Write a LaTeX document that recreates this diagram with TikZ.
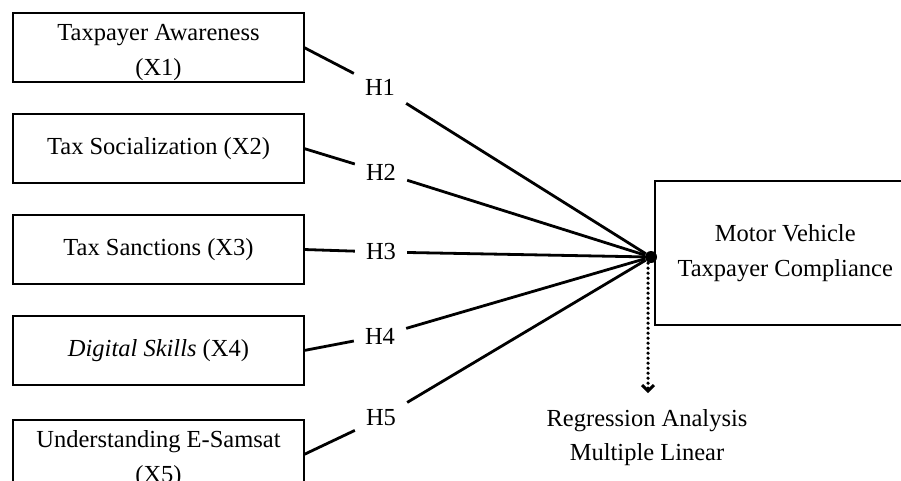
\documentclass[tikz,border=0pt]{standalone}
\usepackage{fontspec}
\setmainfont{Liberation Serif}
\usetikzlibrary{arrows.meta, positioning}

\begin{document}
\begin{tikzpicture}[
    x=1pt, y=-1pt,
    node distance=32pt and 40pt,
    var/.style={rectangle, draw=black, line width=2pt, minimum width=291pt, minimum height=69pt, inner sep=0pt, outer sep=0pt, align=center, font=\fontsize{24.5}{35}\selectfont},
    target/.style={rectangle, draw=black, line width=2pt, minimum width=260pt, minimum height=144pt, outer sep=0pt, align=center, font=\fontsize{24.5}{35}\selectfont},
    hyp/.style={inner sep=11pt, font=\fontsize{24.5}{30}\selectfont},
    dot/.style={circle, fill=black, inner sep=0pt, minimum size=12pt},
    link/.style={line width=2.8pt},
    method/.style={align=center, inner sep=2pt, font=\fontsize{24.5}{34}\selectfont}
]
    \useasboundingbox (0,0) rectangle (901,480);
    \clip (0,0) rectangle (901,480);

    % Variabel bebas
    \node[var] (awareness) at (158.5,47.5) {\rule{0pt}{27pt}Taxpayer Awareness\\(X1)};
    \node[var, below=32pt of awareness] (socialization) {Tax Socialization (X2)};
    \node[var, below=32pt of socialization] (sanctions) {Tax Sanctions (X3)};
    \node[var, below=32pt of sanctions] (skills) {\textit{Digital Skills} (X4)};
    \node[var, below=35pt of skills] (esamsat) {\rule{0pt}{27pt}Understanding E-Samsat\\(X5)};

    % Hipotesis
    \node[hyp] (h1) at (380,87) {H1};
    \node[hyp] (h2) at (381,172) {H2};
    \node[hyp] (h3) at (381,252) {H3};
    \node[hyp] (h4) at (380,336) {H4};
    \node[hyp] (h5) at (381,418) {H5};

    % Variabel terikat
    \node[dot] (hub) at (651,257) {};
    \node[target, right=-2pt of hub, yshift=4pt] (compliance) {Motor Vehicle\\Taxpayer Compliance};

    % Metode analisis
    \node[method, below=144pt of hub, xshift=-4pt] (regr) {Regression Analysis\\Multiple Linear};

    % Garis hubungan
    \draw[link] (awareness.east) -- (h1) -- (hub);
    \draw[link] (socialization.east) -- (h2) -- (hub);
    \draw[link] (sanctions.east) -- (h3) -- (hub);
    \draw[link] (skills.east) -- (h4) -- (hub);
    \draw[link] (esamsat.east) -- (h5) -- (hub);

    \draw[line width=3.6pt, line cap=round, dash pattern=on 0pt off 5pt, -{Straight Barb[length=6pt, width=12pt, line width=3pt]}, shorten >=14pt] ([xshift=-3pt]hub.south) -- ([xshift=-3pt]hub |- regr.north);
\end{tikzpicture}
\end{document}
